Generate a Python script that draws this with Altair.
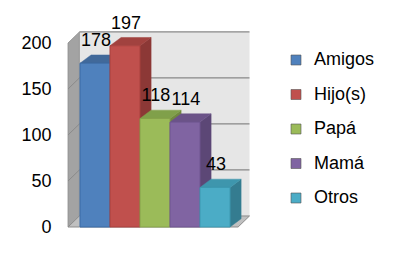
import altair as alt
import pandas as pd

# ---- data ----
categories = ["Amigos", "Hijo(s)", "Papá", "Mamá", "Otros"]
values = [178, 197, 118, 114, 43]
y_ticks = [0, 50, 100, 150, 200]

# ---- style ----
front_colors = ["#4F81BD", "#C0504D", "#9BBB59", "#8064A2", "#4BACC6"]
side_colors = ["#385D8A", "#8C3836", "#71893F", "#5C4776", "#347C90"]
top_colors = ["#41699A", "#A1423F", "#80A04A", "#6B5388", "#3E96AD"]
edge_colors = ["#3A6BA5", "#A8413E", "#86A24A", "#6E5590", "#3C98B0"]

FONT = "Liberation Sans"
BD_X, BD_Y = 0.37, 9.0      # bar depth (x units, value units)
WD_X, WD_Y = 0.38, 12.0     # wall depth
X_L, X_R = -0.40, 5.27      # front-left / front-right of floor
X_DOM = [-2 / 3, 6.0]
PX_PER_V = 0.92
H = 217
Y_DOM = [0, H / PX_PER_V]

xs = alt.Scale(domain=X_DOM, nice=False, zero=False)
ys = alt.Scale(domain=Y_DOM, nice=False, zero=False)
y_axis = alt.Axis(values=y_ticks, domain=False, ticks=False, grid=False, title=None,
                  labelFont=FONT, labelFontSize=18, labelColor="#000000", labelPadding=9)


def X(f):
    return alt.X(f, scale=xs, axis=None)


def Y(f):
    return alt.Y(f, scale=ys, axis=y_axis)


# bars table
bars = pd.DataFrame({
    "cat": categories,
    "val": values,
    "u0": list(range(len(categories))),
    "u1": [i + 1 for i in range(len(categories))],
    "uc": [i + 0.53 for i in range(len(categories))],
    "zero": [0] * len(categories),
    "edge": edge_colors,
})

# polygons for side and top faces
side_rows, top_rows = [], []
for i, v in enumerate(values):
    xl, xr = i, i + 1
    side_rows += [
        dict(pid=f"s{i}", u=xr, v=v, v2=0, fill=side_colors[i]),
        dict(pid=f"s{i}", u=xr + BD_X, v=v + BD_Y, v2=BD_Y, fill=side_colors[i]),
    ]
    top_rows += [
        dict(pid=f"t{i}", u=xl, v=v, v2=v, fill=top_colors[i]),
        dict(pid=f"t{i}", u=xl + BD_X, v=v + BD_Y, v2=v, fill=top_colors[i]),
        dict(pid=f"t{i}", u=xr, v=v + BD_Y, v2=v, fill=top_colors[i]),
        dict(pid=f"t{i}", u=xr + BD_X, v=v + BD_Y, v2=v + BD_Y, fill=top_colors[i]),
    ]
sides = pd.DataFrame(side_rows)
tops = pd.DataFrame(top_rows)

# walls and floor
back_wall = pd.DataFrame([dict(u=X_L + WD_X, u2=X_R + WD_X, v=WD_Y, v2=y_ticks[-1] + WD_Y)])
left_wall = pd.DataFrame([
    dict(u=X_L, v=y_ticks[-1], v2=0),
    dict(u=X_L + WD_X, v=y_ticks[-1] + WD_Y, v2=WD_Y),
])
floor = pd.DataFrame([
    dict(u=X_L, v=0, v2=0),
    dict(u=X_L + WD_X, v=WD_Y, v2=0),
    dict(u=X_R, v=WD_Y, v2=0),
    dict(u=X_R + WD_X, v=WD_Y, v2=WD_Y),
])
grid_back = pd.DataFrame([dict(u=X_L + WD_X, u2=X_R + WD_X, v=t + WD_Y) for t in y_ticks[1:]])
grid_left_rows = []
for t in y_ticks[1:-1]:
    grid_left_rows += [dict(g=t, u=X_L, v=t), dict(g=t, u=X_L + WD_X, v=t + WD_Y)]
grid_left = pd.DataFrame(grid_left_rows)

# ---- layers ----
wall_l = alt.Chart(back_wall).mark_rect(fill="#E6E6E6").encode(
    x=X("u:Q"), x2="u2", y=Y("v:Q"), y2="v2")

grid_b = alt.Chart(grid_back).mark_rule(color="#878787", strokeWidth=1.2).encode(
    x=X("u:Q"), x2="u2", y=Y("v:Q"))

lwall = alt.Chart(left_wall).mark_area(fill="#A3A3A3", stroke="#8E8E8E", strokeWidth=0.8).encode(
    x=X("u:Q"), y=Y("v:Q"), y2="v2")

grid_l = alt.Chart(grid_left).mark_line(color="#8A8A8A", strokeWidth=1).encode(
    x=X("u:Q"), y=Y("v:Q"), detail="g:N")

floor_l = alt.Chart(floor).mark_area(fill="#C0C0C0", stroke="#8C8C8C", strokeWidth=1).encode(
    x=X("u:Q"), y=Y("v:Q"), y2="v2")

side_l = alt.Chart(sides).mark_area(strokeWidth=0.5).encode(
    x=X("u:Q"), y=Y("v:Q"), y2="v2",
    detail="pid:N", fill=alt.Fill("fill:N", scale=None), stroke=alt.Stroke("fill:N", scale=None))

top_l = alt.Chart(tops).mark_area(strokeWidth=0.5).encode(
    x=X("u:Q"), y=Y("v:Q"), y2="v2",
    detail="pid:N", fill=alt.Fill("fill:N", scale=None), stroke=alt.Stroke("fill:N", scale=None))

front_l = alt.Chart(bars).mark_rect(strokeWidth=1).encode(
    x=X("u0:Q"), x2="u1",
    y=Y("val:Q"),
    y2="zero",
    color=alt.Color("cat:N", scale=alt.Scale(domain=categories, range=front_colors),
                    sort=categories,
                    legend=alt.Legend(title=None, orient="none", legendX=227, legendY=41,
                                      symbolType="square", symbolSize=100,
                                      symbolStrokeColor="#555555", symbolStrokeWidth=0.6,
                                      labelFont=FONT, labelFontSize=18, labelColor="#000000",
                                      labelOffset=9, rowPadding=16.5, padding=0)),
    stroke=alt.Stroke("edge:N", scale=None),
)

labels_l = alt.Chart(bars).mark_text(font=FONT, fontSize=18, color="#000000", dy=-22,
                                     baseline="middle", align="center").encode(
    x=X("uc:Q"), y=Y("val:Q"), text="val:Q")

chart = alt.layer(wall_l, grid_b, lwall, grid_l, floor_l, side_l, top_l, front_l, labels_l).properties(
    width=200, height=H,
    autosize=alt.AutoSizeParams(type="none"),
    padding={"left": 52, "top": 2, "right": 134, "bottom": 23},
).configure(background="#FFFFFF").configure_view(stroke=None)

chart.save("out.html", embed_options={"renderer": "svg", "actions": False})
